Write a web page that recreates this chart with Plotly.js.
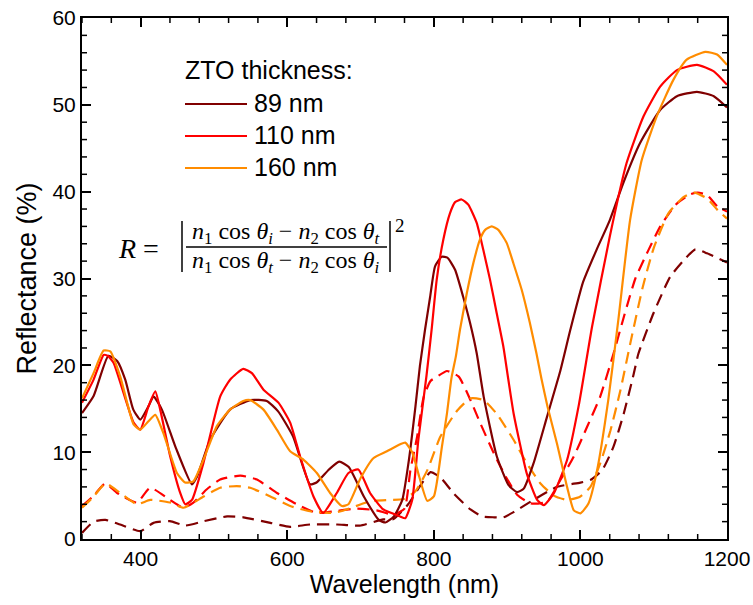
<!DOCTYPE html>
<html>
<head>
<meta charset="utf-8">
<script src="https://cdn.plot.ly/plotly-3.0.1.min.js"></script>
<style>html,body{margin:0;padding:0;background:#fff}</style>
</head>
<body>
<div id="chart" style="width:753px;height:605px"></div>
<script>
// ---- data ----
const seriesNames = ["89 nm", "110 nm", "160 nm"];
const legendTitle = "ZTO thickness:";

const wl89Solid = [320,336,356,368,379,390,399.5,410.8,417.6,429,448,470,477,495,522,549.5,572,587.6,608,631,640,657,671,684,704.5,725,734,745.5,757,766,775,781,788,795,801.7,810.8,818.5,829,840,849.4,858.5,868,886,902,913.6,922.7,936,954.5,972.7,986,1003.7,1022,1040,1058.5,1081.4,1108.8,1131.7,1159,1182,1200];
const r89Solid  = [14.5,16.5,21.1,20.5,18.35,14.9,13.75,15.3,16.4,14.9,10.5,6.3,7.2,11.45,14.9,16.0,15.9,14.7,11.8,6.3,6.5,8.0,8.9,8.3,4.9,2.2,1.9,2.6,4.5,9.1,15.3,19.9,24.1,27.9,31.4,32.5,32.4,31.0,27.9,24.9,21.4,16.4,9.5,6.2,5.4,5.8,8.7,14.1,19.4,24.0,29.6,33.3,36.7,41.0,45.6,49.4,51.0,51.5,51.0,49.7];

const wl110Solid = [320,335.8,349.5,355,363,390.4,399.5,410.8,420,426.7,440.4,454,460.8,470,485.8,508.5,522,540,551.8,567.6,588,604,617.6,635.8,649,667.6,683.5,697,713,731,754,761,770.5,779,790,797,804,813,822,829,838,847,858.5,867.5,876.6,885.8,894.8,901.6,909,927,941,950,963.6,981.8,998,1016,1040,1063,1086,1108.8,1131.7,1159,1182,1200];
const r110Solid  = [15.7,18.35,21.2,21.1,20.3,13.4,12.6,15.3,17.0,14.9,9.5,5.3,4.0,4.5,8.8,16.4,18.35,19.6,19.1,17.2,15.7,13.4,9.5,4.9,3.0,5.3,7.6,8.0,5.3,3.4,2.6,2.4,4.5,11.5,18.8,24.1,29.9,34.5,37.5,38.8,39.1,38.5,36.4,33.3,29.9,26.0,22.2,18.4,14.4,7.5,4.5,3.9,5.25,9.1,15.5,24.5,34.8,43.3,48.65,52.1,54.0,54.6,53.85,52.3];

const wl160Solid = [320,335.8,349.5,358.6,372.2,390.4,399.5,410,420,431,449.5,460.8,472,485.8,504,522,540,549.5,567.6,585.8,604,622,640.4,658.5,674.5,683.5,700,717.5,736,754,761,770.5,780,791,800,811,818,824,830,835.7,845,854,863,870,879,888,899.4,908.4,919.9,931,940,947,955,968,981.8,991,1000,1011,1022.7,1038,1051.7,1067.7,1083.7,1104,1127,1145,1170.5,1186.5,1200];
const r160Solid  = [16.2,19.1,21.7,21.6,18.7,13.2,12.6,13.5,14.3,12.2,7.6,6.5,6.65,9.15,13.0,14.9,15.9,16.0,14.9,12.6,10.1,9.15,7.6,5.3,3.8,4.0,7.0,9.3,10.1,10.9,11.1,10.0,7.2,4.4,4.9,10.6,14.5,18.5,21.0,24.1,28.3,31.8,34.5,35.6,36.0,35.6,34.1,31.8,28.7,24.9,21.4,18.4,15.3,11.0,6.0,3.3,2.95,4.1,7.9,16.0,25.2,36.7,43.65,48.65,52.9,55.2,56.1,55.8,54.6];

const wl89Dash = [320,336,352,372,399.5,417.6,440,461,486,518,540,577,604,631,668,699,731,745,765,782,795.5,809,827,850,866,882,895,909,936,968,1000,1013.6,1029.5,1045,1059,1072.7,1079,1099.7,1122.5,1141,1156.8,1172.8,1200];
const r89Dash  = [0.7,2.0,2.2,1.67,0.9,1.86,2.05,1.55,2.05,2.6,2.5,1.86,1.4,1.67,1.67,1.55,2.25,2.3,4.0,6.2,7.7,7.1,5.25,3.4,2.6,2.5,2.5,3.1,4.5,6.0,6.5,6.8,7.9,10.6,14.4,19.0,21.3,26.0,30.2,32.1,33.35,32.9,31.85];

const wl110Dash = [320,336,352,368,395,413,440,458.6,472,490,508.5,536,558.6,586,613,640,665,695,722,745,760,768,777,786,795.5,804.5,818,834,850,863.6,882,898,913.6,932,954.5,972.7,991,1009,1027,1045,1060,1075,1093,1109,1130,1150,1160,1173,1187,1200];
const r110Dash  = [3.8,5.0,6.4,5.3,4.2,5.9,4.5,3.6,4.2,5.7,6.85,7.3,6.85,5.3,4.0,3.0,3.2,3.5,3.3,2.8,3.5,7.9,11.7,16.3,18.2,18.7,19.35,18.7,16.0,13.3,9.85,7.2,5.1,4.1,4.3,6.8,9.5,12.9,16.4,21.3,25.8,30.0,33.3,36.0,38.5,39.7,39.9,39.6,38.3,37.7];

const wl160Dash = [320,336,352,372,395,413,440,458.6,486,508.5,531,549.5,577,604,631,663,681,713,740,759,775,791,809,832,850,868,886,909,927,945.5,963.6,982,1000,1013.6,1027,1041,1054.5,1068,1085,1100,1120,1141,1155,1173,1187,1200];
const r160Dash  = [3.6,4.9,6.4,5.3,4.0,4.5,4.2,3.6,4.9,5.9,6.1,5.9,4.9,3.8,3.2,3.0,3.4,4.35,4.5,4.6,5.5,7.9,11.8,14.8,16.2,16.0,14.4,11.4,8.7,6.4,5.0,4.5,4.9,6.0,8.7,12.5,17.1,22.5,29.0,33.5,37.5,39.4,39.9,39.2,37.9,36.9];

// axis tick settings
const xRange = [320, 1200], xMajor = 200, xMinor = 40;
const yRange = [0, 60], yMajor = 10, yMinor = 2;

// ---- styles ----
const colors = ["#800000", "#ff0000", "#ff8c00"];
const solidW = 2.2, dashW = 2.2, dashPat = "12px,7px";

const solids = [[wl89Solid, r89Solid], [wl110Solid, r110Solid], [wl160Solid, r160Solid]];
const dashes = [[wl89Dash, r89Dash], [wl110Dash, r110Dash], [wl160Dash, r160Dash]];

const traces = [];
dashes.forEach((d, i) => traces.push({
  x: d[0], y: d[1], type: "scatter", mode: "lines", name: seriesNames[i] + " (dashed)",
  showlegend: false, hoverinfo: "skip",
  line: {color: colors[i], width: dashW, dash: dashPat, shape: "spline", smoothing: 0.5}
}));
solids.forEach((d, i) => traces.push({
  x: d[0], y: d[1], type: "scatter", mode: "lines", name: seriesNames[i],
  showlegend: false,
  line: {color: colors[i], width: solidW, shape: "spline", smoothing: 0.5}
}));

// plot area in pixels (for placing decorations in paper coords)
const L = 82, R = 26, T = 18, B = 66, W = 753, H = 605;
const pw = W - L - R, ph = H - T - B;
const px = v => (v - L) / pw;
const py = v => (H - B - v) / ph;

const font = "Arial, 'Liberation Sans', sans-serif";
const serif = "'Liberation Serif', 'DejaVu Serif', serif";

const shapes = [];
const annotations = [];

// minor ticks (inside, on all four sides)
const mlen = 5;
for (let v = xRange[0]; v <= xRange[1] + 1e-9; v += xMinor) {
  if (Math.abs(v % xMajor) < 1e-9) continue;
  shapes.push({type: "line", xref: "x", yref: "paper", x0: v, x1: v, y0: 0, y1: mlen / ph, line: {color: "#000", width: 1.5}, layer: "above"});
  shapes.push({type: "line", xref: "x", yref: "paper", x0: v, x1: v, y0: 1, y1: 1 - mlen / ph, line: {color: "#000", width: 1.5}, layer: "above"});
}
for (let v = yRange[0]; v <= yRange[1] + 1e-9; v += yMinor) {
  if (Math.abs(v % yMajor) < 1e-9) continue;
  shapes.push({type: "line", xref: "paper", yref: "y", x0: 0, x1: mlen / pw, y0: v, y1: v, line: {color: "#000", width: 1.5}, layer: "above"});
  shapes.push({type: "line", xref: "paper", yref: "y", x0: 1, x1: 1 - mlen / pw, y0: v, y1: v, line: {color: "#000", width: 1.5}, layer: "above"});
}

// manual legend
annotations.push({xref: "paper", yref: "paper", x: px(183), y: py(70), xanchor: "left", yanchor: "middle",
  text: legendTitle, showarrow: false, font: {family: font, size: 25, color: "#000"}});
const legY = [104, 136, 168];
seriesNames.forEach((n, i) => {
  shapes.push({type: "line", xref: "paper", yref: "paper", x0: px(185), x1: px(247), y0: py(legY[i]), y1: py(legY[i]),
    line: {color: colors[i], width: 2.2}});
  annotations.push({xref: "paper", yref: "paper", x: px(252), y: py(legY[i] - 1), xanchor: "left", yanchor: "middle",
    text: n, showarrow: false, font: {family: font, size: 25, color: "#000"}});
});

// formula R = |(n1 cos θi − n2 cos θt)/(n1 cos θt − n2 cos θi)|^2
const mf = {family: serif, size: 24, color: "#000"};
annotations.push({xref: "paper", yref: "paper", x: px(116), y: py(248), xanchor: "left", yanchor: "middle",
  text: "<i>R</i> =", showarrow: false, font: {family: serif, size: 28, color: "#000"}});
annotations.push({xref: "paper", yref: "paper", x: px(286), y: py(233), xanchor: "center", yanchor: "middle",
  text: "<i>n</i><sub>1</sub> cos <i>θ</i><sub><i>i</i></sub> − <i>n</i><sub>2</sub> cos <i>θ</i><sub><i>t</i></sub>", showarrow: false, font: mf});
annotations.push({xref: "paper", yref: "paper", x: px(286), y: py(262), xanchor: "center", yanchor: "middle",
  text: "<i>n</i><sub>1</sub> cos <i>θ</i><sub><i>t</i></sub> − <i>n</i><sub>2</sub> cos <i>θ</i><sub><i>i</i></sub>", showarrow: false, font: mf});
annotations.push({xref: "paper", yref: "paper", x: px(393), y: py(225), xanchor: "left", yanchor: "middle",
  text: "2", showarrow: false, font: {family: serif, size: 19, color: "#000"}});
shapes.push({type: "line", xref: "paper", yref: "paper", x0: px(186), x1: px(387), y0: py(247), y1: py(247), line: {color: "#000", width: 1.3}});
shapes.push({type: "line", xref: "paper", yref: "paper", x0: px(182), x1: px(182), y0: py(221), y1: py(272), line: {color: "#000", width: 1.5}});
shapes.push({type: "line", xref: "paper", yref: "paper", x0: px(390), x1: px(390), y0: py(221), y1: py(272), line: {color: "#000", width: 1.5}});

const axisCommon = {
  showline: true, linecolor: "#000", linewidth: 2, mirror: "ticks",
  ticks: "inside", ticklen: 9, tickwidth: 2, tickcolor: "#000",
  showgrid: false, zeroline: false,
  tickfont: {family: font, size: 21, color: "#000"}
};

const layout = {
  width: W, height: H,
  margin: {l: L, r: R, t: T, b: B, pad: 0},
  paper_bgcolor: "#fff", plot_bgcolor: "#fff",
  showlegend: false,
  xaxis: Object.assign({}, axisCommon, {
    range: xRange, tickmode: "linear", tick0: 0, dtick: xMajor,
    title: {text: "Wavelength (nm)", font: {family: font, size: 25, color: "#000"}, standoff: 6}
  }),
  yaxis: Object.assign({}, axisCommon, {
    range: yRange, tickmode: "linear", tick0: 0, dtick: yMajor,
    title: {text: "Reflectance (%)", font: {family: font, size: 27, color: "#000"}, standoff: 8}
  }),
  shapes: shapes,
  annotations: annotations
};

Plotly.newPlot("chart", traces, layout, {displayModeBar: false, staticPlot: true});
</script>
</body>
</html>
